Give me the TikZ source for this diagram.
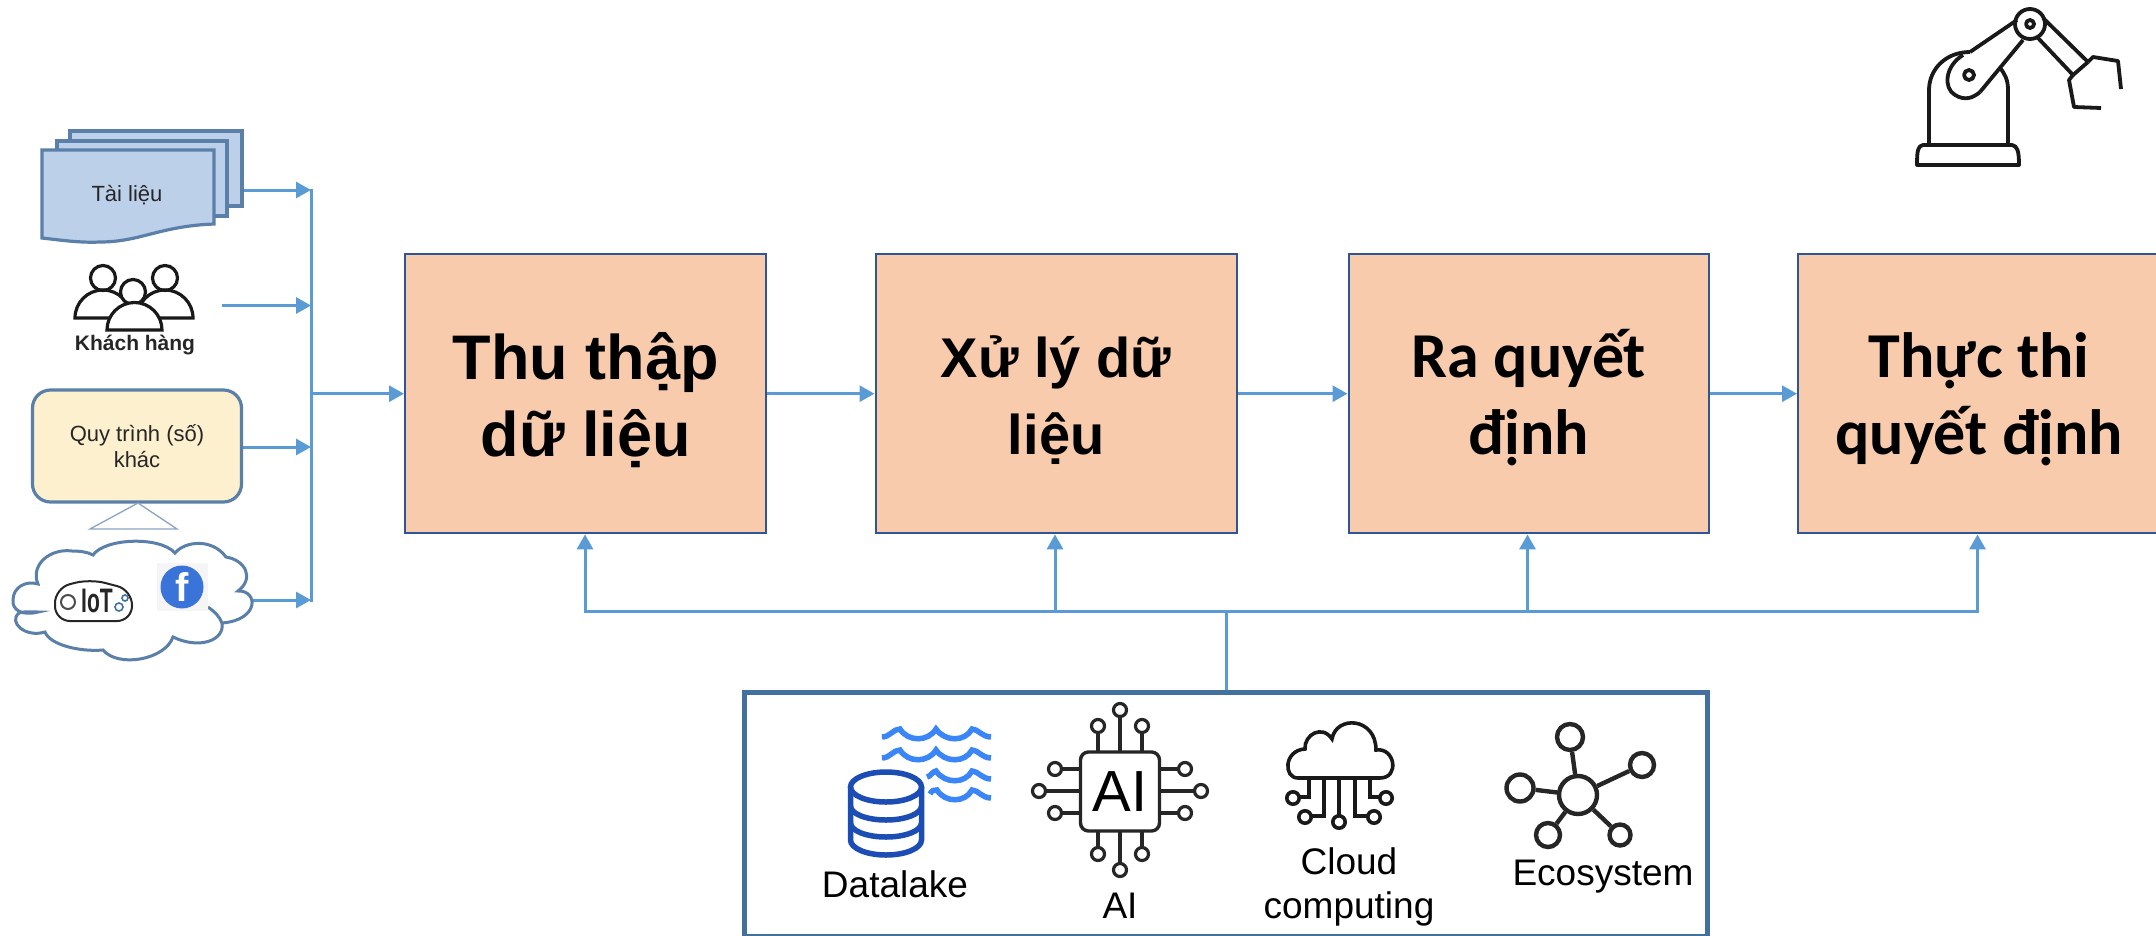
\documentclass[tikz,border=0pt]{standalone}
\usepackage{fontspec}
\setmainfont{Liberation Sans}
\newfontfamily\carl{Carlito}
\usetikzlibrary{arrows.meta}
\definecolor{peach}{HTML}{F7CBAC}
\definecolor{boxedge}{HTML}{2F5597}
\definecolor{conn}{HTML}{5B9BD5}
\definecolor{edged}{HTML}{41719C}
\definecolor{docfill}{HTML}{BDD0E9}
\definecolor{docedge}{HTML}{5A7FA8}
\definecolor{cream}{HTML}{FCF0CF}
\definecolor{lake}{HTML}{3B86F7}
\definecolor{lakedark}{HTML}{1B4DB5}
\definecolor{fb}{HTML}{3B74D8}
\tikzset{
  stage/.style={draw=boxedge,fill=peach,line width=2.4pt,inner sep=0pt,align=center,
    minimum height=279pt,anchor=north west},
  fa/.style={font=\bfseries\fontsize{#1}{77}\selectfont},
  fb/.style={font=\carl\bfseries\fontsize{#1}{77}\selectfont},
  conn/.style={draw=conn,line width=3pt,-{Triangle[length=15pt,width=16pt]}},
  plain/.style={draw=conn,line width=3pt},
  ink/.style={draw=black!90,line width=3.6pt,fill=none},
  lab/.style={font=\fontsize{37}{44}\selectfont,align=center,inner sep=0pt,text=black},
  lake/.style={draw=lake,line width=5.5pt,line cap=butt},
  pin/.style={circle,draw=black!85,line width=3.2pt,fill=white,inner sep=0pt,minimum size=13pt}
}
\newcommand{\stgline}[2]{\smash{\raisebox{-#1pt}{#2}}}
\newcommand{\wavefull}[1]{(882,#1+4) .. controls (890,#1+4) and (893,#1-4) .. (900,#1-4) .. controls (908,#1+9) and (928,#1+9) .. (936,#1-4) .. controls (945,#1+9) and (965,#1+9) .. (972,#1-4) .. controls (978,#1-4) and (982,#1+4) .. (991,#1+4)}
\begin{document}
\begin{tikzpicture}[x=1pt,y=-1pt]
\useasboundingbox (0,0) rectangle (2156,935);
\fill[white] (0,0) rectangle (2156,935);
% stages
\node[stage,fa=63,minimum width=361pt] (s1) at (404,253) {\stgline{24}{Thu thập}\\\stgline{24}{dữ liệu}};
\node[stage,fa=56,minimum width=361pt] (s2) at (874.5,253) {\stgline{22}{Xử lý dữ}\\\stgline{22}{liệu}};
\node[stage,fb=64,minimum width=360pt] (s3) at (1347.5,253) {\stgline{22}{Ra quyết}\\\stgline{22}{định}};
\node[stage,fb=64,minimum width=362pt] (s4) at (1797,253) {\stgline{22}{Thực thi}\\\stgline{22}{quyết định}};
\draw[conn] (s1.east) -- (s2.west);
\draw[conn] (s2.east) -- (s3.west);
\draw[conn] (s3.east) -- (s4.west);
% bottom box
\draw[draw=edged,line width=5pt] (744.5,692) -- (744.5,940) (1707.5,940) -- (1707.5,692);
\draw[draw=edged,line width=5pt] (742,692) -- (1710,692);
\draw[draw=edged,line width=2pt] (745,934.5) -- (1707,934.5);
\coordinate (tb) at (1226,690);
\coordinate (bus) at (1226,611.5);
\coordinate (a1) at (585,611.5);\coordinate (a2) at (1055,611.5);\coordinate (a3) at (1527.5,611.5);\coordinate (a4) at (1977.5,611.5);
\draw[plain] (tb) -- (bus);
\draw[plain,line cap=rect] (a1) -- (a4);
\draw[conn] (a1) -- (a1 |- s1.south);
\draw[conn] (a2) -- (a2 |- s2.south);
\draw[conn] (a3) -- (a3 |- s3.south);
\draw[conn] (a4) -- (a4 |- s4.south);
% left bus
\coordinate (b1) at (311,190);\coordinate (b2) at (311,305.5);\coordinate (b3) at (311,447);\coordinate (b4) at (311,600);
\draw[plain,line cap=rect] (b1) -- (b4);
\draw[conn] (b2 |- s1.west) -- (s1.west);
\draw[conn] (243,190) -- (b1);
\draw[conn] (222,305.5) -- (b2);
\draw[conn] (243,447) -- (b3);
\draw[conn] (244,600) -- (b4);
% documents
\begin{scope}[draw=docedge,fill=docfill,line width=3.2pt]
\filldraw (70,131) -- (242,131) -- (242,206) -- (70,206) -- cycle;
\filldraw (57,141) -- (227,141) -- (227,216) -- (57,216) -- cycle;
\filldraw (42,150) -- (214,150) -- (214,224) .. controls (160,226) and (140,242) .. (100,242) .. controls (80,243) and (60,240) .. (42,238) -- cycle;
\end{scope}
\node[font=\fontsize{22}{26}\selectfont,text=black!85] (doc) at (127,195) {Tài liệu};
% people
\begin{scope}[ink,line width=3.2pt]
\draw (103,278) circle (12.5);
\draw (165,278) circle (12.5);
\draw (75,318) arc[start angle=180,end angle=360,radius=28] -- cycle;
\draw (137,318) arc[start angle=180,end angle=360,radius=28] -- cycle;
\filldraw[fill=white] (133,292) circle (12.5);
\filldraw[fill=white] (107,330) arc[start angle=180,end angle=360,radius=27.5] -- cycle;
\end{scope}
\node[font=\fontsize{21}{25}\selectfont\bfseries,text=black!85] (cust) at (135,345) {Khách hàng};
% process
\node[draw=docedge,fill=cream,line width=3.2pt,rounded corners=18pt,minimum width=209pt,minimum height=112pt,align=center,
  font=\fontsize{22}{26}\selectfont,text=black!85] (proc) at (137,446) {Quy trình (số)\\khác};
\draw[draw=docedge!70,line width=1.3pt] (90,529) -- (138,503) -- (177,529) -- cycle;
% cloud
\draw[draw=docedge,line width=3pt,fill=white] (38,612)
 .. controls (22,616) and (12,610) .. (13,600)
 .. controls (13,588) and (25,580) .. (38,584)
 .. controls (30,565) and (50,548) .. (72,551)
 .. controls (80,551) and (88,552) .. (93,555)
 .. controls (105,538) and (160,536) .. (175,553)
 .. controls (185,541) and (212,538) .. (226,557)
 .. controls (245,560) and (255,578) .. (238,591)
 .. controls (258,590) and (260,620) .. (222,623)
 .. controls (225,640) and (200,650) .. (173,637)
 .. controls (165,660) and (118,668) .. (103,650)
 .. controls (80,652) and (50,645) .. (45,632)
 .. controls (25,638) and (8,622) .. (19,613)
 .. controls (25,611) and (32,612) .. (38,612) -- cycle;
\draw[draw=docedge,line width=3pt] (208,607) .. controls (214,611) and (220,617) .. (222,623);
% IoT logo
\draw[line width=2pt,black!85,rounded corners=15pt] (55,621) -- (55,588) -- (90,579) -- (132,590) -- (132,621) -- cycle;
\draw[line width=2pt,black!70] (68,602) circle (7);
\node[font=\fontsize{34}{34}\selectfont\bfseries,text=black!85,inner sep=0pt,xscale=0.62] (iot) at (97,601) {IoT};
\draw[line width=1.6pt,edged] (119,607) circle (4) (125,598) circle (3);
% facebook
\fill[black!4] (157,563) rectangle (208,611);
\node[circle,fill=fb,minimum size=43pt,inner sep=0pt,text=white,font=\fontsize{40}{40}\selectfont\bfseries] (fbn) at (182,587) {f};
% datalake
\draw[lake] \wavefull{733};
\draw[lake] \wavefull{754};
\draw[lake] (927,777) .. controls (930,777) and (933,771) .. (936,771) .. controls (945,784) and (965,784) .. (972,771) .. controls (978,771) and (982,779) .. (991,779);
\draw[lake] (930,794) .. controls (932,790) and (934,790) .. (937,790) .. controls (945,803) and (965,803) .. (972,790) .. controls (978,790) and (982,798) .. (991,798);
\begin{scope}[draw=lakedark,line width=5.5pt]
\draw (886,787) ellipse (35.5 and 15);
\draw (850.5,787) -- (850.5,840) arc[start angle=180,end angle=0,x radius=35.5,y radius=15] -- (921.5,787);
\draw (850.5,806) arc[start angle=180,end angle=0,x radius=35.5,y radius=14];
\draw (850.5,823) arc[start angle=180,end angle=0,x radius=35.5,y radius=14];
\end{scope}
\node[lab] (dl) at (895,884) {Datalake};
% AI chip
\begin{scope}[draw=black!85,line width=3.4pt]
\foreach \dx in {-22,0,22}{
  \pgfmathsetmacro{\tl}{\dx==0?38:22}
  \draw (1120+\dx,751-\tl) -- (1120+\dx,751);
  \draw (1120+\dx,829) -- (1120+\dx,829+\tl);
  \node[pin] (t\dx) at (1120+\dx,751-\tl-3) {};
  \node[pin] (d\dx) at (1120+\dx,829+\tl+3) {};
  \draw (1080-\tl,791+\dx) -- (1080,791+\dx);
  \draw (1160,791+\dx) -- (1160+\tl,791+\dx);
  \node[pin] (l\dx) at (1080-\tl-3,791+\dx) {};
  \node[pin] (r\dx) at (1160+\tl+3,791+\dx) {};
}
\end{scope}
\node[draw=black!85,line width=3.4pt,fill=white,rounded corners=8pt,minimum width=79pt,minimum height=79pt,inner sep=0pt,
  font=\fontsize{58}{60}\selectfont] (chip) at (1120,791.5) {AI};
\node[lab] (ail) at (1120,906) {AI};
% cloud computing
\begin{scope}[ink]
\draw (1298,778) .. controls (1283,778) and (1284,750) .. (1305,749) .. controls (1304,735) and (1322,724) .. (1332,739)
 .. controls (1336,715) and (1376,717) .. (1376,750) .. controls (1395,747) and (1400,778) .. (1380,778) -- cycle;
\draw (1309,778) -- (1309,797) -- (1299,797);
\draw (1324,778) -- (1324,816) -- (1311,816);
\draw (1339,778) -- (1339,815);
\draw (1355,778) -- (1355,816) -- (1368,816);
\draw (1370,778) -- (1370,797) -- (1380,797);
\draw (1293,798) circle (6.2) (1305,817) circle (6.2) (1339,822) circle (6.2) (1374,817) circle (6.2) (1386,798) circle (6.2);
\end{scope}
\node[lab] (cc) at (1349,887) {Cloud\\computing};
% ecosystem
\begin{scope}[draw=black!85,line width=4.4pt]
\node[circle,draw,minimum size=38pt,inner sep=0pt] (hub) at (1578,795) {};
\node[circle,draw,minimum size=26pt,inner sep=0pt] (e1) at (1570,737) {};
\node[circle,draw,minimum size=24pt,inner sep=0pt] (e2) at (1642,765) {};
\node[circle,draw,minimum size=27pt,inner sep=0pt] (e3) at (1520,788) {};
\node[circle,draw,minimum size=24pt,inner sep=0pt] (e4) at (1548,835) {};
\node[circle,draw,minimum size=21pt,inner sep=0pt] (e5) at (1620,835) {};
\draw (hub) -- (e1) (hub) -- (e2) (hub) -- (e3) (hub) -- (e4) (hub) -- (e5);
\end{scope}
\node[lab] (eco) at (1603,877) {Ecosystem};
% robot
\begin{scope}[ink,line width=3.8pt,line join=round]
\draw (1929,145) -- (1929,90) .. controls (1929,70) and (1945,52) .. (1970,52);
\draw (2008,145) -- (2008,90) .. controls (2008,80) and (2005,74) .. (2000,68);
\draw (1970,52) -- (2017,20);
\draw (1980,92) -- (2023,40);
\draw (1963,55) .. controls (1945,66) and (1943,88) .. (1955,95) .. controls (1965,101) and (1973,98) .. (1980,92);
\draw (1969,75) circle (5);
\draw (2030,24) circle (15);
\draw (2030,24) circle (4);
\draw (2043,18) -- (2088,62) (2038,38) -- (2073,75);
\draw (2073,75) -- (2088,62);
\draw (2088,62) -- (2093,57) -- (2118,61) -- (2121,89);
\draw (2073,75) -- (2069,80) -- (2074,107) -- (2101,108);
\draw (1923,145) -- (2012,145) .. controls (2017,146) and (2019,150) .. (2019,165) -- (1917,165) .. controls (1917,150) and (1918,146) .. (1923,145) -- cycle;
\end{scope}
\end{tikzpicture}
\end{document}
